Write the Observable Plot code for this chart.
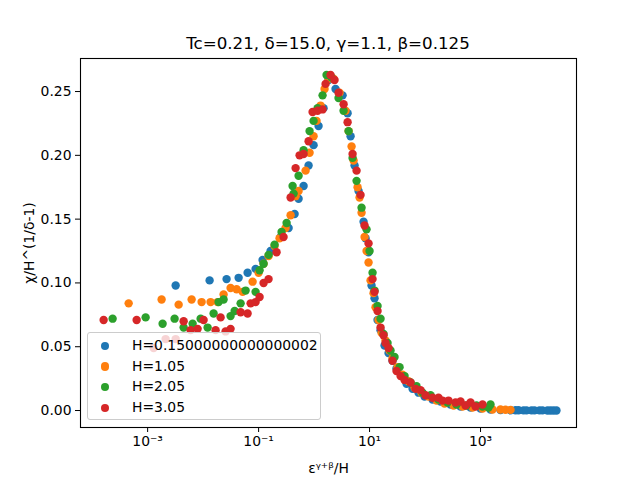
<!DOCTYPE html>
<html>
<head>
<meta charset="utf-8">
<script src="https://cdn.jsdelivr.net/npm/d3@7"></script>
<script src="https://cdn.jsdelivr.net/npm/@observablehq/plot@0.6"></script>
<style>
  body { margin: 0; background: white; font-family: "DejaVu Sans", sans-serif; }
  #wrap { position: relative; width: 640px; height: 480px; overflow: hidden; }
  #title { position: absolute; left: 80px; width: 496px; top: 33px; text-align: center; font-size: 16.7px; color: black; }
  #legend { position: absolute; left: 87px; top: 332px; width: 234px; height: 88px; box-sizing: border-box;
            border: 1px solid #cccccc; border-radius: 3px; background: rgba(255,255,255,0.8); }
  .entry { position: absolute; left: 0; height: 20px; font-size: 13.9px; color: black; white-space: nowrap; }
  .sw { position: absolute; left: 13px; top: 5.8px; width: 8.4px; height: 8.4px; border-radius: 50%; }
  .lab { position: absolute; left: 44px; top: 1px; }
</style>
</head>
<body>
<div id="wrap">
  <div id="title">Tc=0.21, δ=15.0, γ=1.1, β=0.125</div>
  <div id="legend"></div>
</div>
<script>
// Series labels and colours
const labels = ["H=0.15000000000000002", "H=1.05", "H=2.05", "H=3.05"];
const colors = ["#1f77b4", "#ff7f0e", "#2ca02c", "#d62728"];
const xTicks = [1e-3, 1e-1, 1e1, 1e3];
const yTicks = [0, 0.05, 0.10, 0.15, 0.20, 0.25];

// Each point: [log10(ε^(γ+β)/H), χ/H^(1/δ-1)]
const h015 = [
  [-2.495,0.098],[-1.883,0.102],[-1.577,0.103],[-1.360,0.104],[-1.198,0.108],[-1.054,0.111],
  [-0.928,0.118],[-0.784,0.125],[-0.604,0.136],[-0.459,0.143],[-0.351,0.154],[-0.279,0.166],
  [-0.189,0.176],[-0.099,0.192],[-0.009,0.208],[0.081,0.223],[0.171,0.237],[0.261,0.259],
  [0.387,0.252],[0.514,0.247],[0.604,0.233],[0.658,0.215],[0.730,0.192],[0.802,0.172],
  [0.892,0.148],[0.928,0.135],[0.982,0.124],[1.036,0.098],[1.090,0.088],[1.144,0.071],
  [1.198,0.063],[1.270,0.051],[1.342,0.045],[1.414,0.039],[1.486,0.033],[1.577,0.027],
  [1.667,0.021],[1.775,0.017],[1.883,0.014],[1.991,0.011],[2.135,0.0086],[2.279,0.0071],
  [2.459,0.0047],[2.640,0.0031],[2.820,0.0024],[3.000,0.0016],[3.180,0.0008],[3.360,0.0003],
  [3.541,0.0002],[3.631,0.0002],[3.685,0.0002],[3.775,0.0001],[3.829,0.0001],[3.919,0.0001],
  [3.973,0.0001],[4.063,0.0001],[4.117,0.0001],[4.207,0.0],[4.261,0.0],[4.315,0.0],[4.369,0.0]
];
const h105 = [
  [-3.342,0.084],[-2.748,0.087],[-2.441,0.083],[-2.207,0.087],[-2.027,0.085],[-1.865,0.085],
  [-1.739,0.085],[-1.631,0.091],[-1.505,0.096],[-1.396,0.095],[-1.288,0.093],[-1.108,0.101],
  [-1.000,0.108],[-0.910,0.115],[-0.820,0.121],[-0.712,0.129],[-0.622,0.135],[-0.514,0.143],
  [-0.423,0.153],[-0.333,0.168],[-0.279,0.172],[-0.153,0.188],[-0.081,0.202],[-0.009,0.215],
  [0.045,0.227],[0.117,0.239],[0.189,0.252],[0.261,0.260],[0.351,0.260],[0.459,0.249],
  [0.568,0.235],[0.622,0.219],[0.676,0.207],[0.712,0.196],[0.784,0.175],[0.820,0.167],
  [0.856,0.155],[0.910,0.136],[0.946,0.125],[0.982,0.116],[1.018,0.102],[1.072,0.092],
  [1.108,0.081],[1.162,0.071],[1.216,0.061],[1.288,0.055],[1.360,0.047],[1.414,0.041],
  [1.505,0.034],[1.595,0.028],[1.703,0.023],[1.811,0.018],[1.937,0.014],[2.063,0.011],
  [2.207,0.0078],[2.351,0.0055],[2.514,0.0039],[2.676,0.0031],[2.856,0.0024],[3.036,0.0016],
  [3.216,0.0008],[3.360,0.0008],[3.450,0.0006],[3.541,0.0005]
];
const h205 = [
  [-3.631,0.072],[-3.036,0.073],[-2.730,0.068],[-2.514,0.072],[-2.351,0.065],[-2.189,0.068],
  [-2.045,0.072],[-1.919,0.065],[-1.811,0.076],[-1.721,0.085],[-1.631,0.087],[-1.505,0.074],
  [-1.432,0.078],[-1.324,0.084],[-1.234,0.094],[-1.054,0.093],[-0.982,0.110],[-0.910,0.115],
  [-0.820,0.122],[-0.712,0.130],[-0.586,0.140],[-0.495,0.147],[-0.387,0.176],[-0.369,0.170],
  [-0.279,0.184],[-0.189,0.204],[-0.081,0.219],[-0.009,0.227],[0.063,0.237],[0.153,0.247],
  [0.225,0.263],[0.315,0.261],[0.441,0.245],[0.532,0.235],[0.622,0.219],[0.694,0.198],
  [0.766,0.180],[0.856,0.159],[0.946,0.142],[1.000,0.125],[1.054,0.108],[1.090,0.094],
  [1.144,0.082],[1.198,0.072],[1.252,0.060],[1.324,0.053],[1.378,0.047],[1.450,0.042],
  [1.541,0.034],[1.631,0.027],[1.739,0.022],[1.847,0.019],[1.955,0.014],[2.099,0.012],
  [2.243,0.0086],[2.405,0.0063],[2.568,0.0047],[2.748,0.0039],[2.928,0.0039],[3.036,0.0031],
  [3.144,0.0024],[3.180,0.0047]
];
const h305 = [
  [-3.793,0.071],[-3.198,0.071],[-2.892,0.049],[-2.676,0.056],[-2.495,0.056],[-2.351,0.070],
  [-2.225,0.063],[-2.099,0.064],[-1.991,0.071],[-1.775,0.063],[-1.685,0.073],[-1.595,0.062],
  [-1.505,0.064],[-1.324,0.077],[-1.198,0.076],[-1.144,0.084],[-1.054,0.085],[-0.982,0.089],
  [-0.910,0.100],[-0.820,0.103],[-0.676,0.124],[-0.550,0.136],[-0.423,0.167],[-0.333,0.190],
  [-0.261,0.200],[-0.189,0.201],[-0.099,0.211],[-0.027,0.234],[0.063,0.235],[0.153,0.236],
  [0.207,0.256],[0.297,0.263],[0.369,0.259],[0.441,0.249],[0.532,0.240],[0.604,0.226],
  [0.694,0.201],[0.766,0.188],[0.838,0.169],[0.910,0.145],[0.982,0.131],[1.054,0.103],
  [1.090,0.093],[1.144,0.078],[1.198,0.065],[1.252,0.059],[1.288,0.053],[1.342,0.049],
  [1.414,0.039],[1.486,0.031],[1.559,0.027],[1.631,0.024],[1.739,0.022],[1.829,0.017],
  [1.919,0.016],[2.009,0.012],[2.135,0.010],[2.243,0.010],[2.315,0.0078],[2.423,0.0078],
  [2.550,0.0063],[2.640,0.0071],[2.730,0.0039],[2.820,0.0063],[2.910,0.0031],[3.036,0.0047]
];

const series = [h015, h105, h205, h305];
const rows = series.flatMap((s, i) => s.map(([lx, y]) => ({x: Math.pow(10, lx), y, series: labels[i]})));

const supDigits = "⁰¹²³⁴⁵⁶⁷⁸⁹";
const supFmt = d => {
  const e = Math.round(Math.log10(d));
  return "10" + String(e).replace("-", "⁻").replace(/\d/g, c => supDigits[+c]);
};

const chart = Plot.plot({
  width: 640,
  height: 480,
  marginLeft: 80,
  marginRight: 64,
  marginTop: 58,
  marginBottom: 53,
  style: {fontFamily: "DejaVu Sans", fontSize: "13.9px", color: "black", background: "white", overflow: "visible"},
  x: {type: "log", domain: [Math.pow(10, -4.21), Math.pow(10, 4.73)]},
  y: {domain: [-0.0133, 0.2759]},
  color: {domain: labels, range: colors},
  marks: [
    Plot.dot(rows, {x: "x", y: "y", fill: "series", r: 4.2, stroke: "none"}),
    Plot.frame({stroke: "black", strokeWidth: 1.1}),
    Plot.axisX({ticks: xTicks, tickFormat: supFmt, tickSize: 5, tickPadding: 4, label: "εᵞ⁺ᵝ/H",
                labelAnchor: "center", labelArrow: "none", labelOffset: 45}),
    Plot.axisY({ticks: yTicks, tickFormat: d3.format(".2f"), tickSize: 5, tickPadding: 4, label: "χ/H^(1/δ-1)",
                labelAnchor: "center", labelArrow: "none", labelOffset: 56})
  ]
});
const wrap = document.getElementById("wrap");
wrap.insertBefore(chart, wrap.firstChild);

// Legend built from the same labels and colours
const legend = d3.select("#legend");
labels.forEach((lab, i) => {
  const e = legend.append("div").attr("class", "entry").style("top", (3 + i * 20.6) + "px").style("width", "100%");
  e.append("span").attr("class", "sw").style("background", colors[i]);
  e.append("span").attr("class", "lab").text(lab);
});
</script>
</body>
</html>
